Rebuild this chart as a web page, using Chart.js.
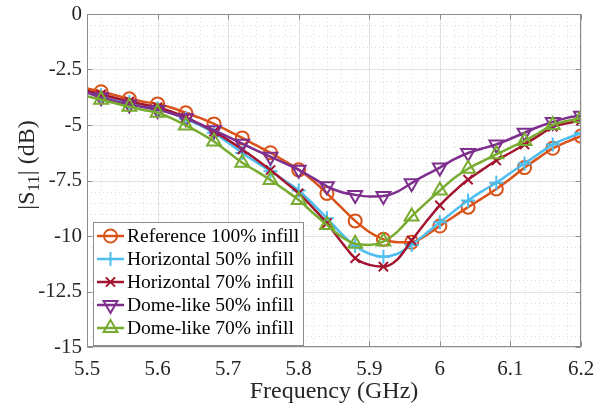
<!DOCTYPE html>
<html>
<head>
<meta charset="utf-8">
<script src="https://cdn.jsdelivr.net/npm/chart.js@4.4.0/dist/chart.umd.min.js"></script>
<style>
  html, body { margin: 0; padding: 0; background: #fff; }
</style>
</head>
<body>
<canvas id="s11" width="595" height="411"></canvas>
<script>
// frequency sweep (GHz), markers sit on every other sample
const freq = [5.50, 5.52, 5.54, 5.56, 5.58, 5.60, 5.62, 5.64, 5.66, 5.68, 5.70, 5.72,
              5.74, 5.76, 5.78, 5.80, 5.82, 5.84, 5.86, 5.88, 5.90, 5.92, 5.94, 5.96,
              5.98, 6.00, 6.02, 6.04, 6.06, 6.08, 6.10, 6.12, 6.14, 6.16, 6.18, 6.20];

// |S11| in dB
const ref100 = [-3.35, -3.50, -3.66, -3.82, -3.95, -4.05, -4.22, -4.45, -4.68, -4.95, -5.26, -5.58,
                -5.92, -6.25, -6.62, -7.02, -7.50, -8.08, -8.70, -9.32, -9.82, -10.15, -10.28, -10.28,
                -9.98, -9.55, -9.12, -8.70, -8.30, -7.88, -7.42, -6.92, -6.48, -6.05, -5.76, -5.50];
const horiz50 = [-3.50, -3.66, -3.82, -3.98, -4.12, -4.26, -4.46, -4.72, -5.02, -5.36, -5.80, -6.26,
                 -6.68, -7.08, -7.50, -7.95, -8.55, -9.20, -9.88, -10.45, -10.80, -10.93, -10.80, -10.40,
                 -9.90, -9.38, -8.88, -8.40, -7.98, -7.60, -7.16, -6.73, -6.30, -5.88, -5.60, -5.36];
const horiz70 = [-3.45, -3.62, -3.78, -3.94, -4.08, -4.20, -4.40, -4.66, -4.96, -5.30, -5.68, -6.10,
                 -6.55, -7.03, -7.55, -8.08, -8.72, -9.42, -10.25, -11.00, -11.30, -11.38, -11.05, -10.20,
                 -9.38, -8.62, -8.00, -7.46, -7.02, -6.60, -6.25, -5.88, -5.48, -5.08, -4.92, -4.80];
const dome50 = [-3.55, -3.75, -3.93, -4.08, -4.20, -4.32, -4.48, -4.70, -4.96, -5.24, -5.54, -5.84,
                -6.14, -6.43, -6.72, -7.02, -7.38, -7.76, -8.02, -8.15, -8.22, -8.20, -8.00, -7.62,
                -7.25, -6.92, -6.55, -6.26, -6.06, -5.88, -5.62, -5.35, -5.08, -4.86, -4.68, -4.58];
const dome70 = [-3.70, -3.86, -4.02, -4.18, -4.32, -4.45, -4.70, -5.02, -5.36, -5.74, -6.22, -6.70,
                -7.08, -7.48, -7.92, -8.38, -8.95, -9.50, -10.02, -10.35, -10.40, -10.25, -9.80, -9.12,
                -8.52, -7.95, -7.40, -6.97, -6.64, -6.32, -6.02, -5.72, -5.36, -5.00, -4.82, -4.68];

const seriesNames = ['Reference 100% infill', 'Horizontal 50% infill', 'Horizontal 70% infill',
                     'Dome-like 50% infill', 'Dome-like 70% infill'];
const seriesValues = [ref100, horiz50, horiz70, dome50, dome70];

const styles = [
  { color: '#D95319', marker: 'circle',   size: 6.5, rot: 0 },
  { color: '#4DBEEE', marker: 'cross',    size: 7,   rot: 0 },
  { color: '#A2142F', marker: 'crossRot', size: 6.5, rot: 0 },
  { color: '#7E2F8E', marker: 'triangle', size: 8,   rot: 180 },
  { color: '#77AC30', marker: 'triangle', size: 8,   rot: 0 },
];

const FONT = "'Liberation Serif', 'Times New Roman', serif";
const AXIS_COLOR = '#262626';

const datasets = seriesNames.map((name, k) => {
  const st = styles[k];
  return {
    label: name,
    data: freq.map((f, i) => ({ x: f, y: seriesValues[k][i] })),
    borderColor: st.color,
    borderWidth: 2.5,
    pointStyle: st.marker,
    pointRotation: st.rot,
    pointRadius: freq.map((f, i) => (i % 2 === 1 ? st.size : 0)),
    pointBorderWidth: 2,
    pointBorderColor: st.color,
    pointBackgroundColor: 'rgba(0,0,0,0)',
    cubicInterpolationMode: 'monotone',
    order: 5 - k,
  };
});

// MATLAB-like grid: solid major lines, dotted minor lines
const gridPlugin = {
  id: 'gridPlugin',
  beforeDatasetsDraw(chart) {
    const { ctx, chartArea: a, scales: { x, y } } = chart;
    ctx.save();
    ctx.lineWidth = 1;
    // minor
    ctx.strokeStyle = '#dcdcdc';
    ctx.setLineDash([1, 3]);
    for (let k = 1; k < 35; k++) {
      if (k % 5 === 0) continue;
      const px = Math.round(x.getPixelForValue(5.5 + k * 0.02)) + 0.5;
      ctx.beginPath(); ctx.moveTo(px, a.top); ctx.lineTo(px, a.bottom); ctx.stroke();
    }
    for (let k = 1; k < 30; k++) {
      if (k % 5 === 0) continue;
      const py = Math.round(y.getPixelForValue(-15 + k * 0.5)) + 0.5;
      ctx.beginPath(); ctx.moveTo(a.left, py); ctx.lineTo(a.right, py); ctx.stroke();
    }
    // major
    ctx.setLineDash([]);
    ctx.strokeStyle = '#e2e2e2';
    x.ticks.forEach(t => {
      const px = Math.round(x.getPixelForValue(t.value)) + 0.5;
      ctx.beginPath(); ctx.moveTo(px, a.top); ctx.lineTo(px, a.bottom); ctx.stroke();
    });
    y.ticks.forEach(t => {
      const py = Math.round(y.getPixelForValue(t.value)) + 0.5;
      ctx.beginPath(); ctx.moveTo(a.left, py); ctx.lineTo(a.right, py); ctx.stroke();
    });
    ctx.restore();
  },
  afterDatasetsDraw(chart) {
    const { ctx, chartArea: a, scales: { x, y } } = chart;
    ctx.save();
    ctx.strokeStyle = '#8c8c8c';
    ctx.lineWidth = 1;
    const L = Math.round(a.left) + 0.5, R = Math.round(a.right) - 0.5;
    const T = Math.round(a.top) + 0.5, B = Math.round(a.bottom) - 0.5;
    ctx.strokeRect(L, T, R - L, B - T);
    // inward ticks on all four sides
    ctx.beginPath();
    x.ticks.forEach(t => {
      const px = Math.round(x.getPixelForValue(t.value)) + 0.5;
      ctx.moveTo(px, B); ctx.lineTo(px, B - 5);
      ctx.moveTo(px, T); ctx.lineTo(px, T + 5);
    });
    y.ticks.forEach(t => {
      const py = Math.round(y.getPixelForValue(t.value)) + 0.5;
      ctx.moveTo(L, py); ctx.lineTo(L + 5, py);
      ctx.moveTo(R, py); ctx.lineTo(R - 5, py);
    });
    ctx.stroke();
    ctx.restore();
  },
};

// legend box in the lower left corner of the plot
const boxLegend = {
  id: 'boxLegend',
  afterDraw(chart) {
    const { ctx } = chart;
    const bx = 93, by = 222, bw = 210, bh = 123;
    ctx.save();
    ctx.fillStyle = '#fff';
    ctx.fillRect(bx, by, bw, bh);
    ctx.strokeStyle = '#8c8c8c';
    ctx.lineWidth = 1;
    ctx.strokeRect(bx + 0.5, by + 0.5, bw, bh);
    ctx.font = `19.5px ${FONT}`;
    ctx.textBaseline = 'middle';
    chart.data.datasets.forEach((ds, k) => {
      const st = styles[k];
      const yy = by + 14 + k * 23;
      ctx.strokeStyle = st.color;
      ctx.lineWidth = 2.5;
      ctx.beginPath(); ctx.moveTo(bx + 4, yy); ctx.lineTo(bx + 31, yy); ctx.stroke();
      ctx.lineWidth = 2;
      ctx.fillStyle = 'rgba(0,0,0,0)';
      Chart.helpers.drawPoint(ctx, {
        pointStyle: st.marker, rotation: st.rot, radius: st.size, borderWidth: 2,
      }, bx + 17.5, yy);
      ctx.fillStyle = '#000';
      ctx.fillText(ds.label, bx + 34, yy + 1);
    });
    ctx.restore();
  },
};

// y axis label with subscript
const yTitle = {
  id: 'yTitle',
  afterDraw(chart) {
    const { ctx } = chart;
    const big = `24px ${FONT}`, small = `17px ${FONT}`;
    const parts = [['|S', big, 0], ['11', small, 7], ['| (dB)', big, 0]];
    ctx.save();
    let total = 0;
    parts.forEach(p => { ctx.font = p[1]; total += ctx.measureText(p[0]).width; });
    ctx.translate(28, 165);
    ctx.rotate(-Math.PI / 2);
    ctx.fillStyle = AXIS_COLOR;
    ctx.textBaseline = 'middle';
    let cx = -total / 2;
    parts.forEach(p => {
      ctx.font = p[1];
      ctx.fillText(p[0], cx, p[2]);
      cx += ctx.measureText(p[0]).width;
    });
    ctx.restore();
  },
};

const fmt = v => String(Number(v.toFixed(2)));

new Chart(document.getElementById('s11'), {
  type: 'line',
  data: { datasets },
  options: {
    responsive: false,
    animation: false,
    layout: { padding: { top: 14, right: 14, left: 0, bottom: 0 } },
    plugins: { legend: { display: false }, tooltip: { enabled: false } },
    scales: {
      x: {
        type: 'linear',
        min: 5.5,
        max: 6.2,
        afterFit: s => { s.height = 64; s.paddingLeft = 0; s.paddingRight = 0; },
        grid: { display: false, drawTicks: false },
        border: { display: false },
        ticks: {
          stepSize: 0.1, autoSkip: false, maxRotation: 0, padding: 10,
          color: AXIS_COLOR, font: { family: FONT, size: 21 },
          callback: v => fmt(v),
        },
        title: {
          display: true, text: 'Frequency (GHz)', color: AXIS_COLOR,
          font: { family: FONT, size: 24 }, padding: { top: 0, bottom: 5 },
        },
      },
      y: {
        min: -15,
        max: 0,
        afterFit: s => { s.width = 87; s.paddingTop = 0; s.paddingBottom = 0; },
        grid: { display: false, drawTicks: false },
        border: { display: false },
        ticks: {
          stepSize: 2.5, autoSkip: false, padding: 5,
          color: AXIS_COLOR, font: { family: FONT, size: 21 },
          callback: v => fmt(v),
        },
      },
    },
  },
  plugins: [gridPlugin, boxLegend, yTitle],
});
</script>
</body>
</html>
